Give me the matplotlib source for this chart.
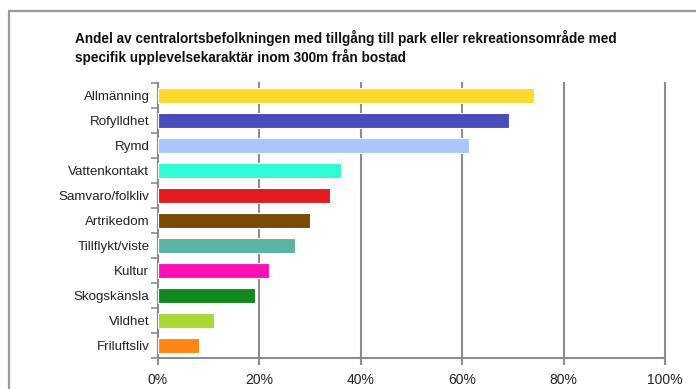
import matplotlib
matplotlib.use("Agg")
import matplotlib.pyplot as plt
from matplotlib.patches import Rectangle
from matplotlib.ticker import FixedLocator, PercentFormatter

categories = ["Allmänning", "Rofylldhet", "Rymd", "Vattenkontakt", "Samvaro/folkliv",
              "Artrikedom", "Tillflykt/viste", "Kultur", "Skogskänsla", "Vildhet", "Friluftsliv"]
values = [74.2, 69.2, 61.3, 36.2, 34.0, 30.1, 27.0, 22.0, 19.1, 11.0, 8.1]
colors = ["#FFDA2E", "#4B4CBC", "#A8C6FF", "#2EFAD4", "#E31B1F", "#7A4B00",
          "#5BB4A2", "#FF10B9", "#13891B", "#A9D934", "#FF8515"]
x_ticks = [0, 20, 40, 60, 80, 100]
title = ("Andel av centralortsbefolkningen med tillgång till park eller rekreationsområde med\n"
         "specifik upplevelsekaraktär inom 300m från bostad")

plt.rcParams["font.family"] = ["Liberation Sans", "DejaVu Sans"]

W, H = 696, 389
fig = plt.figure(figsize=(W / 100, H / 100), dpi=100)
fig.patch.set_facecolor("white")

# outer frame around the chart
fig.patches.append(Rectangle((9 / W, -0.1), 1.1, 1 - 11 / H + 0.1, transform=fig.transFigure,
                             fill=False, edgecolor="#9a9a9a", linewidth=1.6))

fig.text(75 / W, 1 - 30 / H, title, ha="left", va="top", fontsize=9.8, fontweight="bold",
         linespacing=1.18, color="#111111")

ax = fig.add_axes([157.7 / W, 1 - 358 / H, (665 - 157.7) / W, (358 - 83) / H])
n = len(categories)
ypos = list(range(n))
ax.barh(ypos, values, height=0.58, color=colors, edgecolor="white", linewidth=0.8, zorder=3)
ax.set_ylim(n - 0.5, -0.5)
ax.set_xlim(0, 100)

ax.xaxis.set_major_locator(FixedLocator(x_ticks))
ax.xaxis.set_major_formatter(PercentFormatter(decimals=0))
ax.set_yticks(ypos)
ax.set_yticklabels(categories)
ax.yaxis.set_minor_locator(FixedLocator([i - 0.5 for i in range(n + 1)]))

ax.grid(axis="x", color="#8c8c8c", linewidth=1.5, zorder=1)
for gl in ax.get_xgridlines():
    gl.set_clip_on(False)
ax.set_axisbelow(True)
for s in ["top", "right"]:
    ax.spines[s].set_visible(False)
for s in ["left", "bottom"]:
    ax.spines[s].set_color("#8c8c8c")
    ax.spines[s].set_linewidth(1.5)

ax.tick_params(axis="y", which="major", length=0, pad=6, labelsize=9.6, labelcolor="#222222")
ax.tick_params(axis="y", which="minor", length=5, width=1.2, color="#8c8c8c")
ax.tick_params(axis="x", which="major", length=5, width=1.5, color="#8c8c8c",
               labelsize=10, labelcolor="#222222", pad=6)

fig.savefig("out.png", dpi=100, facecolor="white")
